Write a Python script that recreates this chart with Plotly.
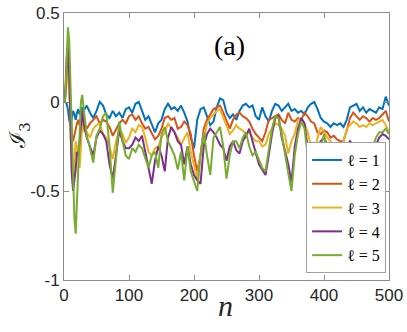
import plotly.graph_objects as go

# sample positions: fine steps near the start, then every 5
n_vals = list(range(0, 30, 2)) + list(range(30, 501, 5))

labels = ["\u2113 = 1", "\u2113 = 2", "\u2113 = 3", "\u2113 = 4", "\u2113 = 5"]
colors = ["#0072BD", "#D95319", "#EDB120", "#7E2F8E", "#77AC30"]

i3_l1 = [0.00, 0.00, -0.01, -0.04, -0.10, -0.13, -0.09, -0.05, -0.07, -0.10, -0.06, -0.04, -0.07, -0.05, -0.03,
         -0.05, -0.02, -0.06, -0.09, -0.05, 0.00, -0.02, -0.07, -0.09, -0.05,
         -0.08, -0.06, -0.09, -0.04, -0.03, -0.06, -0.01, 0.00, -0.05, -0.10,
         -0.08, -0.13, -0.17, -0.12, -0.10, -0.04, -0.01, -0.04, -0.03, -0.05,
         -0.02, -0.06, -0.11, -0.20, -0.26, -0.10, -0.04, -0.03, -0.08, -0.13,
         -0.11, -0.03, 0.02, 0.01, -0.06, -0.09, -0.07, -0.10, -0.05, -0.02,
         -0.01, -0.03, -0.02, -0.08, -0.10, -0.03, -0.08, -0.11, -0.05, -0.01,
         -0.02, -0.05, -0.03, -0.01, -0.05, -0.04, -0.06, -0.05, -0.07, -0.03,
         -0.01, 0.00, -0.04, -0.09, -0.11, -0.12, -0.14, -0.12, -0.13, -0.12,
         -0.14, -0.10, -0.03, -0.02, -0.01, -0.05, -0.03, -0.06, -0.04, -0.05,
         -0.06, -0.03, -0.04, 0.03, -0.02]

i3_l2 = [0.00, 0.05, 0.25, 0.33, 0.15, -0.05, -0.18, -0.22, -0.18, -0.16, -0.12, -0.10, -0.13, -0.09, -0.05,
         -0.11, -0.15, -0.12, -0.10, -0.08, -0.12, -0.10, -0.11, -0.14, -0.19,
         -0.15, -0.12, -0.10, -0.12, -0.08, -0.07, -0.10, -0.08, -0.12, -0.15,
         -0.14, -0.18, -0.21, -0.19, -0.15, -0.09, -0.08, -0.10, -0.09, -0.15,
         -0.14, -0.11, -0.13, -0.18, -0.30, -0.39, -0.30, -0.15, -0.10, -0.07,
         -0.04, -0.03, -0.02, -0.06, -0.10, -0.15, -0.10, -0.07, -0.06, -0.08,
         -0.09, -0.11, -0.15, -0.18, -0.20, -0.22, -0.17, -0.10, -0.09, -0.08,
         -0.07, -0.10, -0.12, -0.06, -0.10, -0.11, -0.09, -0.10, -0.06, -0.08,
         -0.11, -0.12, -0.17, -0.18, -0.16, -0.17, -0.20, -0.19, -0.21, -0.22,
         -0.22, -0.16, -0.09, -0.06, -0.08, -0.10, -0.08, -0.09, -0.11, -0.09,
         -0.10, -0.09, -0.07, -0.05, -0.11]

i3_l3 = [0.00, 0.02, 0.10, 0.18, 0.08, -0.15, -0.40, -0.47, -0.35, -0.22, -0.25, -0.33, -0.37, -0.26, -0.12,
         -0.16, -0.17, -0.20, -0.15, -0.13, -0.12, -0.18, -0.20, -0.25, -0.32,
         -0.22, -0.15, -0.18, -0.23, -0.20, -0.15, -0.17, -0.13, -0.14, -0.20,
         -0.28, -0.30, -0.26, -0.25, -0.20, -0.17, -0.12, -0.15, -0.17, -0.20,
         -0.24, -0.20, -0.17, -0.28, -0.36, -0.43, -0.30, -0.22, -0.12, -0.09,
         -0.07, -0.05, -0.04, -0.09, -0.13, -0.18, -0.16, -0.13, -0.15, -0.16,
         -0.18, -0.17, -0.20, -0.22, -0.22, -0.25, -0.24, -0.18, -0.15, -0.12,
         -0.13, -0.15, -0.19, -0.29, -0.22, -0.18, -0.10, -0.09, -0.12, -0.17,
         -0.25, -0.29, -0.20, -0.14, -0.17, -0.20, -0.22, -0.25, -0.27, -0.24,
         -0.22, -0.15, -0.13, -0.11, -0.12, -0.14, -0.13, -0.14, -0.12, -0.13,
         -0.12, -0.11, -0.10, -0.13, -0.17]

i3_l4 = [0.00, 0.04, 0.18, 0.30, 0.15, -0.10, -0.40, -0.50, -0.45, -0.38, -0.28, -0.30, -0.22, -0.12, -0.05,
         -0.12, -0.20, -0.25, -0.30, -0.20, -0.16, -0.18, -0.22, -0.35, -0.43,
         -0.30, -0.16, -0.22, -0.26, -0.26, -0.24, -0.20, -0.22, -0.19, -0.28,
         -0.38, -0.46, -0.33, -0.25, -0.30, -0.39, -0.20, -0.14, -0.17, -0.22,
         -0.24, -0.35, -0.25, -0.35, -0.41, -0.44, -0.46, -0.25, -0.18, -0.15,
         -0.17, -0.20, -0.24, -0.26, -0.33, -0.25, -0.22, -0.27, -0.29, -0.22,
         -0.19, -0.15, -0.22, -0.28, -0.35, -0.38, -0.41, -0.30, -0.18, -0.09,
         -0.08, -0.20, -0.28, -0.35, -0.45, -0.25, -0.15, -0.09, -0.12, -0.25,
         -0.40, -0.46, -0.25, -0.22, -0.20, -0.24, -0.30, -0.35, -0.32, -0.28,
         -0.30, -0.25, -0.22, -0.24, -0.26, -0.29, -0.27, -0.30, -0.24, -0.26,
         -0.24, -0.20, -0.18, -0.19, -0.21]

i3_l5 = [0.00, 0.02, 0.20, 0.42, 0.35, 0.10, -0.10, -0.40, -0.65, -0.74, -0.55, -0.30, -0.10, 0.00, 0.04,
         -0.02, -0.19, -0.26, -0.34, -0.19, -0.15, -0.08, -0.06, -0.25, -0.51,
         -0.32, -0.11, -0.22, -0.30, -0.32, -0.26, -0.28, -0.24, -0.26, -0.32,
         -0.37, -0.30, -0.28, -0.37, -0.18, -0.14, -0.22, -0.26, -0.30, -0.38,
         -0.28, -0.44, -0.25, -0.39, -0.45, -0.50, -0.30, -0.17, -0.30, -0.41,
         -0.20, -0.17, -0.14, -0.25, -0.43, -0.30, -0.22, -0.22, -0.26, -0.20,
         -0.17, -0.25, -0.30, -0.28, -0.32, -0.37, -0.39, -0.28, -0.15, -0.08,
         -0.09, -0.18, -0.30, -0.40, -0.50, -0.30, -0.18, -0.11, -0.15, -0.30,
         -0.45, -0.51, -0.30, -0.26, -0.18, -0.28, -0.33, -0.40, -0.35, -0.38,
         -0.42, -0.35, -0.30, -0.38, -0.45, -0.48, -0.40, -0.35, -0.30, -0.24,
         -0.20, -0.17, -0.17, -0.15, -0.18]

series = [i3_l1, i3_l2, i3_l3, i3_l4, i3_l5]

fig = go.Figure()
for lab, col, ys in zip(labels, colors, series):
    fig.add_trace(go.Scatter(x=n_vals, y=ys, mode="lines", name=lab,
                             line=dict(color=col, width=2)))

axis_style = dict(showline=True, linecolor="#8c8c8c", linewidth=1, mirror="ticks",
                  ticks="inside", ticklen=5, tickcolor="#8c8c8c", showgrid=False,
                  zeroline=False, automargin=False, ticklabeloverflow="allow",
                  tickfont=dict(family="Liberation Sans, Arial", size=17, color="#262626"))

fig.update_xaxes(range=[0, 500], tickvals=[0, 100, 200, 300, 400, 500], **axis_style)
fig.update_yaxes(range=[-1, 0.5], tickvals=[-1, -0.5, 0, 0.5], ticktext=["-1", "-0.5", "0", "0.5"],
                 **axis_style)

serif = "Liberation Serif, DejaVu Serif, serif"

# axis titles placed by hand so the margins stay fixed
fig.add_annotation(xref="paper", yref="paper", x=0.498, y=-0.095, text="<i>n</i>",
                   showarrow=False, xanchor="center", yanchor="middle",
                   font=dict(family=serif, size=30, color="#262626"))
fig.add_annotation(xref="paper", yref="paper", x=-0.135, y=0.54, text="\u2110<sub>3</sub>",
                   showarrow=False, textangle=-90, xanchor="center", yanchor="middle",
                   font=dict(family="DejaVu Serif", size=22, color="#262626"))

fig.add_annotation(x=255, y=0.32, text="(a)", showarrow=False,
                   font=dict(family=serif, size=28, color="#000000"))

fig.update_layout(
    width=407, height=332,
    margin=dict(l=64, r=18, t=13, b=52),
    plot_bgcolor="white", paper_bgcolor="white",
    legend=dict(x=0.991, y=0.026, xanchor="right", yanchor="bottom",
                bgcolor="white", bordercolor="#a0a0a0", borderwidth=1,
                font=dict(family=serif, size=16, color="#000000"),
                itemwidth=30, tracegroupgap=0),
)

# drop the default 8px body margin so the figure sits at the window corner
fig.write_html("out.html", config={"displayModeBar": False},
               post_script="document.body.style.margin = '0px';")
